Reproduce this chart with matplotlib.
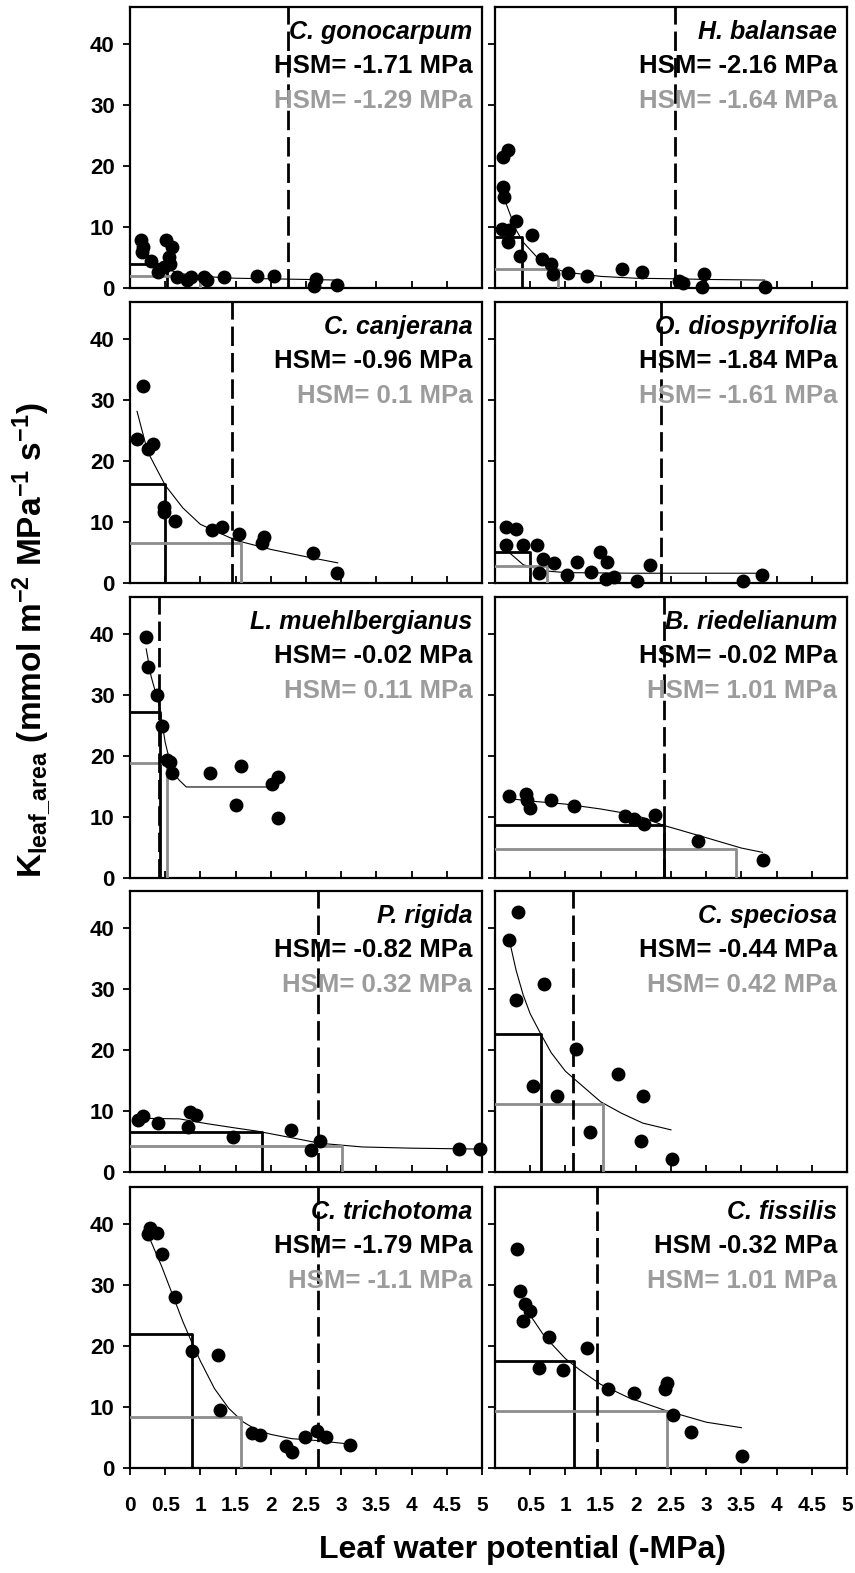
import matplotlib
matplotlib.use('Agg')
import matplotlib.pyplot as plt

plt.rcParams['font.family'] = ['Liberation Sans', 'DejaVu Sans']
plt.rcParams['font.weight'] = 'bold'
plt.rcParams['mathtext.fontset'] = 'custom'
plt.rcParams['mathtext.rm'] = 'Liberation Sans:bold'
plt.rcParams['mathtext.bf'] = 'Liberation Sans:bold'
plt.rcParams['mathtext.default'] = 'bf'

GRAY_LINE = '#8c8c8c'
GRAY_TEXT = '#9c9c9c'

# species order: row by row, left then right
species = ['C. gonocarpum', 'H. balansae', 'C. canjerana', 'O. diospyrifolia',
           'L. muehlbergianus', 'B. riedelianum', 'P. rigida', 'C. speciosa',
           'C. trichotoma', 'C. fissilis']
hsm_50 = ['HSM= -1.71 MPa', 'HSM= -2.16 MPa', 'HSM= -0.96 MPa', 'HSM= -1.84 MPa',
          'HSM= -0.02 MPa', 'HSM= -0.02 MPa', 'HSM= -0.82 MPa', 'HSM= -0.44 MPa',
          'HSM= -1.79 MPa', 'HSM -0.32 MPa']
hsm_88 = ['HSM= -1.29 MPa', 'HSM= -1.64 MPa', 'HSM= 0.1 MPa', 'HSM= -1.61 MPa',
          'HSM= 0.11 MPa', 'HSM= 1.01 MPa', 'HSM= 0.32 MPa', 'HSM= 0.42 MPa',
          'HSM= -1.1 MPa', 'HSM= 1.01 MPa']

# measured points (leaf water potential, K_leaf_area)
obs_x = [
    [0.16, 0.19, 0.17, 0.30, 0.40, 0.51, 0.60, 0.55, 0.57, 0.48, 0.67, 0.81, 0.86,
     1.05, 1.10, 1.33, 1.81, 2.05, 2.64, 2.61, 2.94],
    [0.12, 0.19, 0.12, 0.13, 0.10, 0.20, 0.19, 0.30, 0.35, 0.53, 0.67, 0.80, 0.83,
     1.03, 1.31, 1.81, 2.09, 2.62, 2.67, 2.97, 2.94, 3.83],
    [0.10, 0.18, 0.25, 0.32, 0.48, 0.48, 0.64, 1.17, 1.31, 1.55, 1.90, 1.88, 2.60, 2.94],
    [0.16, 0.30, 0.16, 0.40, 0.59, 0.68, 0.62, 0.84, 1.02, 1.17, 1.37, 1.49, 1.59,
     1.57, 1.69, 2.01, 2.20, 3.52, 3.79],
    [0.23, 0.26, 0.38, 0.45, 0.53, 0.57, 0.60, 1.14, 1.58, 1.51, 2.02, 2.10, 2.10],
    [0.20, 0.44, 0.45, 0.50, 0.79, 1.12, 1.84, 1.97, 2.11, 2.27, 2.89, 3.81],
    [0.12, 0.18, 0.40, 0.82, 0.85, 0.94, 1.47, 2.29, 2.57, 2.70, 4.68, 4.97],
    [0.32, 0.20, 0.70, 0.30, 1.15, 1.75, 0.54, 0.88, 2.10, 1.35, 2.08, 2.51],
    [0.26, 0.29, 0.38, 0.46, 0.64, 0.88, 1.25, 1.28, 1.74, 1.84, 2.21, 2.30, 2.49,
     2.65, 2.79, 3.13],
    [0.31, 0.36, 0.43, 0.50, 0.40, 0.77, 1.31, 0.62, 0.97, 1.61, 1.98, 2.42, 2.45,
     2.53, 2.79, 3.51],
]
obs_k = [
    [7.8, 6.7, 5.9, 4.5, 2.6, 7.8, 6.7, 5.1, 4.0, 3.4, 1.8, 1.3, 1.8, 1.8, 1.3, 1.8,
     1.9, 1.9, 1.5, 0.4, 0.5],
    [21.5, 22.6, 16.6, 14.9, 9.6, 9.5, 7.5, 11.0, 5.3, 8.6, 4.8, 4.0, 2.3, 2.4, 2.0,
     3.1, 2.6, 1.2, 0.9, 2.3, 0.2, 0.2],
    [23.6, 32.2, 22.0, 22.8, 12.4, 11.6, 10.1, 8.7, 9.1, 8.1, 7.5, 6.5, 4.9, 1.6],
    [9.2, 8.8, 6.2, 6.2, 6.2, 4.0, 1.7, 3.2, 1.3, 3.4, 1.8, 5.0, 3.4, 0.6, 1.0, 0.4,
     2.9, 0.4, 1.3],
    [39.4, 34.6, 29.9, 24.9, 19.3, 19.0, 17.2, 17.2, 18.3, 11.9, 15.4, 16.6, 9.8],
    [13.5, 13.8, 12.7, 11.5, 12.8, 11.8, 10.2, 9.7, 8.9, 10.3, 6.1, 3.0],
    [8.5, 9.2, 8.1, 7.3, 9.9, 9.3, 5.7, 6.8, 3.6, 5.0, 3.75, 3.75],
    [42.5, 38.0, 30.8, 28.1, 20.1, 16.1, 14.1, 12.4, 12.4, 6.6, 5.0, 2.2],
    [38.3, 39.3, 38.4, 35.0, 28.0, 19.2, 18.5, 9.5, 5.8, 5.4, 3.6, 2.6, 5.1, 6.1,
     5.1, 3.8],
    [35.8, 28.9, 26.9, 25.7, 24.1, 21.4, 19.6, 16.4, 16.0, 13.0, 12.2, 13.0, 13.9,
     8.6, 5.9, 2.0],
]

# fitted vulnerability curves
fit_x = [
    [0.16, 0.3, 0.5, 0.7, 1.0, 1.5, 2.0, 2.5, 2.94],
    [0.12, 0.2, 0.3, 0.4, 0.6, 0.8, 1.0, 1.5, 2.0, 2.6, 3.0, 3.83],
    [0.10, 0.25, 0.5, 0.75, 1.0, 1.5, 2.0, 2.5, 2.95],
    [0.15, 0.4, 0.7, 1.0, 2.0, 3.0, 3.8],
    [0.23, 0.30, 0.42, 0.50, 0.60, 0.70, 0.80, 1.2, 2.10],
    [0.20, 0.5, 1.0, 1.5, 2.0, 2.4, 3.0, 3.5, 3.8],
    [0.12, 0.7, 1.1, 1.5, 1.8, 2.3, 2.7, 3.3, 4.0, 5.0],
    [0.22, 0.3, 0.4, 0.5, 0.65, 0.8, 1.0, 1.25, 1.5, 1.8, 2.1, 2.5],
    [0.29, 0.45, 0.6, 0.75, 0.88, 1.0, 1.2, 1.4, 1.6, 1.8, 2.0, 2.3, 2.65, 3.13],
    [0.45, 0.5, 0.7, 1.0, 1.2, 1.5, 1.9, 2.4, 3.0, 3.5],
]
fit_k = [
    [7.0, 4.8, 3.2, 2.4, 1.9, 1.6, 1.5, 1.4, 1.3],
    [15.0, 12.5, 9.5, 7.5, 5.0, 3.4, 2.6, 1.9, 1.6, 1.5, 1.4, 1.3],
    [28.1, 21.5, 16.0, 12.3, 9.6, 7.0, 5.5, 4.3, 3.3],
    [5.5, 3.0, 2.0, 1.7, 1.6, 1.6, 1.6],
    [37.5, 33.0, 28.0, 22.2, 17.5, 16.0, 14.9, 14.9, 14.9],
    [13.0, 12.6, 12.1, 11.3, 10.3, 8.6, 6.6, 4.9, 4.2],
    [8.8, 8.7, 7.9, 7.2, 6.7, 5.6, 4.7, 4.1, 3.9, 3.75],
    [37.1, 33.0, 29.0, 25.9, 22.6, 19.5, 16.5, 14.0, 11.5, 9.6, 8.0, 6.9],
    [37.3, 33.0, 28.5, 24.0, 20.5, 17.5, 13.0, 9.8, 7.6, 6.2, 5.5, 4.8, 4.5, 3.9],
    [25.6, 25.0, 21.6, 17.9, 16.1, 13.7, 11.5, 9.5, 7.5, 6.6],
]

# P50 and P88 (x) with conductance at those points (y), and minimum water potential
p50 = [0.53, 0.39, 0.50, 0.50, 0.42, 2.40, 1.87, 0.65, 0.88, 1.12]
k50 = [4.0, 8.4, 16.2, 5.1, 27.2, 8.6, 6.6, 22.6, 21.9, 17.5]
p88 = [1.00, 0.89, 1.57, 0.74, 0.53, 3.43, 3.01, 1.54, 1.57, 2.44]
k88 = [1.9, 3.1, 6.5, 2.8, 18.8, 4.75, 4.3, 11.1, 8.4, 9.3]
psi_min = [2.25, 2.55, 1.45, 2.36, 0.41, 2.40, 2.67, 1.11, 2.67, 1.45]

fig = plt.figure(figsize=(8.55, 15.73), dpi=100)
W, H = 855.0, 1573.0
col_left = [130, 495]
row_top = [7, 302, 597, 891, 1187]
pw, ph = 352, 281

for i in range(10):
    r, c = divmod(i, 2)
    ax = fig.add_axes([col_left[c] / W, 1 - (row_top[r] + ph) / H, pw / W, ph / H])
    ax.set_xlim(0, 5)
    ax.set_ylim(0, 46)
    for s in ax.spines.values():
        s.set_linewidth(1.6)

    ax.plot(fit_x[i], fit_k[i], color='black', lw=0.8, zorder=2)
    ax.plot([0, p50[i], p50[i]], [k50[i], k50[i], 0], color='black', lw=2.0, zorder=3)
    ax.plot([0, p88[i], p88[i]], [k88[i], k88[i], 0], color=GRAY_LINE, lw=2.0, zorder=3)
    ax.axvline(psi_min[i], color='black', lw=2.0, linestyle=(0, (7, 2.5)), zorder=4)
    ax.plot(obs_x[i], obs_k[i], 'o', color='black', markersize=9, zorder=5, clip_on=False)

    ax.text(0.972, 0.91, species[i], transform=ax.transAxes, ha='right', va='center',
            fontsize=18, fontweight='bold', fontstyle='italic', zorder=6)
    ax.text(0.972, 0.79, hsm_50[i], transform=ax.transAxes, ha='right', va='center',
            fontsize=18.5, fontweight='bold', color='black', zorder=6)
    ax.text(0.972, 0.665, hsm_88[i], transform=ax.transAxes, ha='right', va='center',
            fontsize=18.5, fontweight='bold', color=GRAY_TEXT, zorder=6)

    ax.set_yticks([0, 10, 20, 30, 40])
    ax.tick_params(axis='y', direction='out', length=5, width=1.3, labelsize=16, pad=6)
    if c == 1:
        ax.set_yticklabels([])
    if r == 4:
        if c == 0:
            xt = [0, 0.5, 1, 1.5, 2, 2.5, 3, 3.5, 4, 4.5, 5]
        else:
            xt = [0.5, 1, 1.5, 2, 2.5, 3, 3.5, 4, 4.5, 5]
        ax.set_xticks(xt)
        ax.set_xticklabels(['%g' % v for v in xt])
        ax.tick_params(axis='x', direction='out', length=5, width=1.3,
                       labelsize=15, pad=15)
    else:
        ax.set_xticks([0.5, 1, 1.5, 2, 2.5, 3, 3.5, 4, 4.5])
        ax.set_xticklabels([])
        ax.tick_params(axis='x', direction='in', length=5, width=1.3)

fig.text(522 / W, 1 - 1550 / H, 'Leaf water potential (-MPa)', ha='center', va='center',
         fontsize=23, fontweight='bold')
fig.text(32 / W, 1 - 640 / H,
         r'K$_{leaf\_area}$ (mmol m$^{-2}$ MPa$^{-1}$ s$^{-1}$)',
         rotation=90, ha='center', va='center', fontsize=24, fontweight='bold')

fig.savefig('out.png', dpi=100)
